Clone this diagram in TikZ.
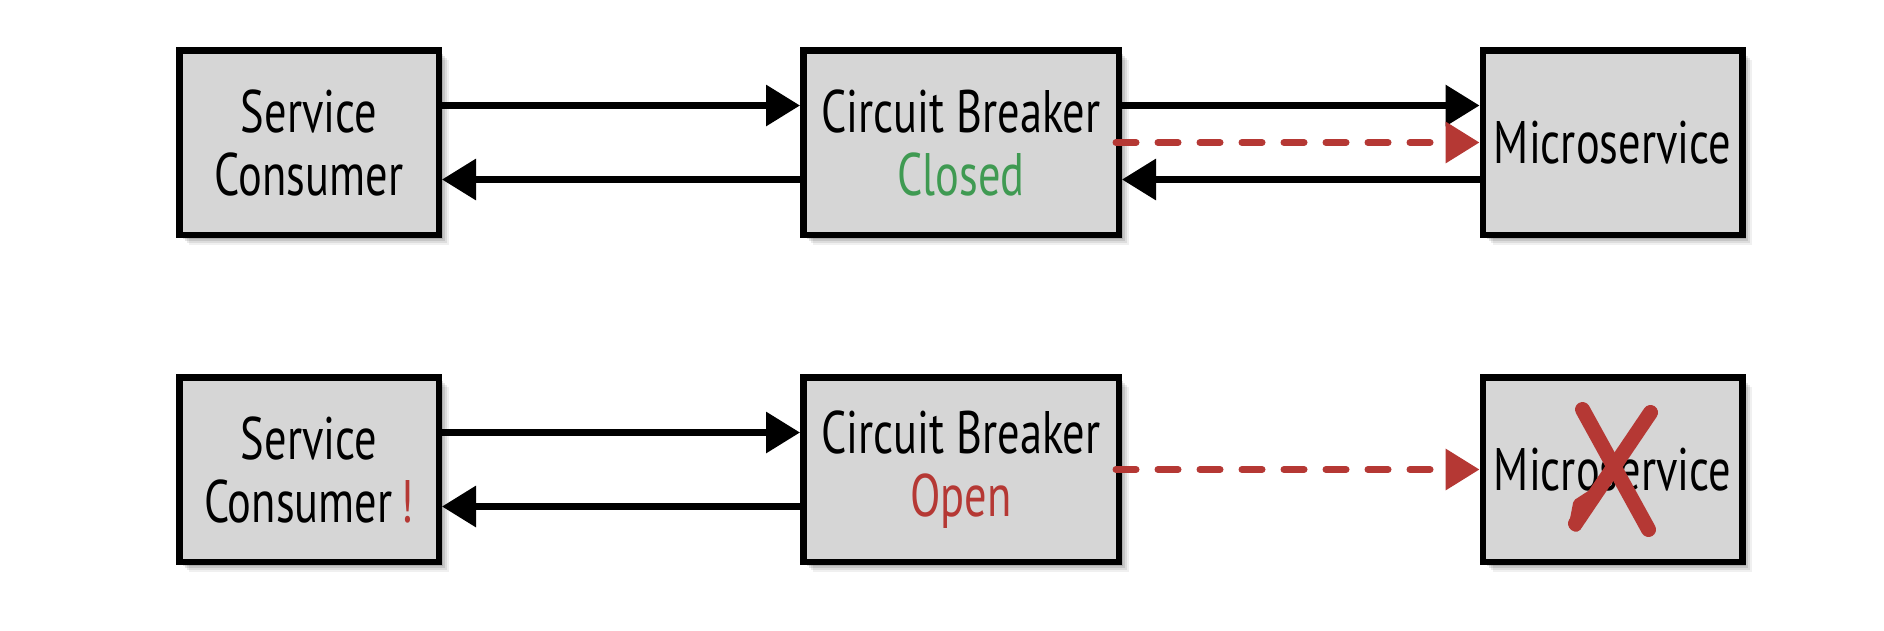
\documentclass[tikz,border=0pt]{standalone}
\usepackage{fontspec}
\setmainfont{PT Sans}[FakeStretch=0.74]
\usetikzlibrary{arrows.meta,shadows,calc}
\definecolor{boxgray}{HTML}{D6D6D6}
\definecolor{okgreen}{HTML}{3F9A52}
\definecolor{errred}{HTML}{B53834}
\tikzset{
  box/.style={draw=black, line width=6.5pt, fill=boxgray, minimum height=184.5pt,
    minimum width=259.5pt,
    align=center, font=\fontsize{60}{63}\selectfont, inner sep=0pt,
    general shadow={fill=black, opacity=0.06, shadow xshift=10pt, shadow yshift=-10pt},
    general shadow={fill=black, opacity=0.08, shadow xshift=8pt, shadow yshift=-8pt},
    general shadow={fill=black, opacity=0.10, shadow xshift=6pt, shadow yshift=-6pt},
    general shadow={fill=black, opacity=0.12, shadow xshift=4pt, shadow yshift=-4pt}},
  flow/.style={line width=6.5pt, -{Triangle[length=34pt,width=40pt]}},
  fail/.style={line width=7pt, errred, dash pattern=on 20pt off 22pt, line cap=round,
    -{Triangle[length=34pt,width=40pt,fill=errred,line cap=butt]}},
  cross/.style={line width=15pt, errred, line cap=round}
}
\begin{document}
\begin{tikzpicture}[x=1pt,y=-1pt]
\useasboundingbox[fill=white] (0,0) rectangle (1884,630);
% top row
\node[box] (sc1) at (309,142.5) {Service\\Consumer};
\node[box, minimum width=315.5pt] (cb1) at (961,142.5) {Circuit Breaker\\\textcolor{okgreen}{Closed}};
\node[box] (ms1) at (1612.5,142.5) {Microservice};
% bottom row
\node[box] (sc2) at (309,469.5) {Service\\Consumer\hspace{8pt}\textcolor{errred}{!}};
\node[box, minimum width=315.5pt] (cb2) at (961,469.5) {Circuit Breaker\\\textcolor{errred}{Open}};
\node[box] (ms2) at (1612.5,469.5) {Microservice};
% top connectors
\draw[flow] ([yshift=37pt]sc1.east) -- ([yshift=37pt]cb1.west);
\draw[flow] ([yshift=-37pt]cb1.west) -- ([yshift=-37pt]sc1.east);
\draw[flow] ([yshift=37pt]cb1.east) -- ([yshift=37pt]ms1.west);
\draw[flow] ([yshift=-37pt]ms1.west) -- ([yshift=-37pt]cb1.east);
\draw[fail] ([xshift=-6pt]cb1.east) -- (ms1.west);
% bottom connectors
\draw[flow] ([yshift=37pt]sc2.east) -- ([yshift=37pt]cb2.west);
\draw[flow] ([yshift=-37pt]cb2.west) -- ([yshift=-37pt]sc2.east);
\draw[fail] ([xshift=-6pt]cb2.east) -- (ms2.west);
% cross
\coordinate (x1a) at ($(ms2.center)+(-30,-60)$);
\coordinate (x1b) at ($(ms2.center)+(36,60)$);
\coordinate (x2a) at ($(ms2.center)+(38,-57)$);
\coordinate (x2b) at ($(ms2.center)+(-37,54)$);
\draw[cross] (x1a) -- (x1b);
\draw[cross] (x2a) -- (x2b);
\fill[errred, rounded corners=2pt] ($(ms2.center)+(-22,20)$) -- ($(ms2.center)+(-39,31)$)
  -- ($(ms2.center)+(-44,57)$) -- ($(ms2.center)+(-40,62)$) -- ($(ms2.center)+(-33,62)$)
  -- ($(ms2.center)+(-28,52)$) -- cycle;
\end{tikzpicture}
\end{document}
